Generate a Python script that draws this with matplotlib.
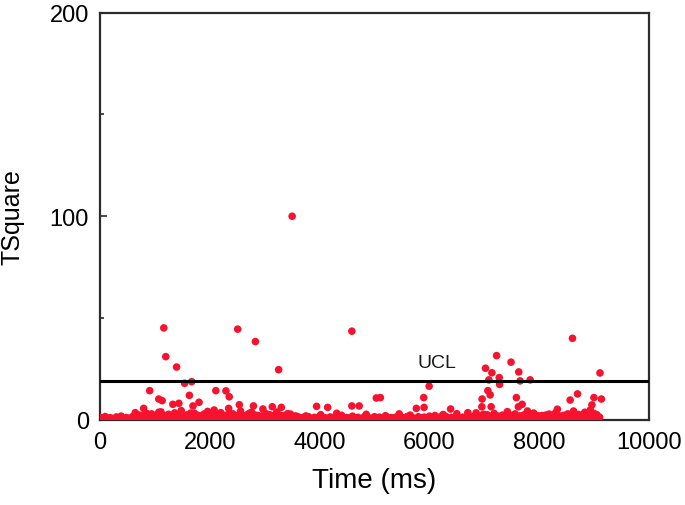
import matplotlib
matplotlib.use('Agg')
import matplotlib.pyplot as plt
from matplotlib.ticker import MultipleLocator

plt.rcParams['font.family'] = ['Liberation Sans', 'DejaVu Sans']

# T^2 values that stand clearly above the baseline
peak_t = [3500, 1162, 2508, 4588, 2831, 8606, 1198, 1395, 3254, 7224,
          7487, 9107, 1541, 1670, 7022, 7138, 7083, 7272, 7279, 7628,
          7652, 7835, 5995, 5107, 5896, 7065, 7107, 6960, 6955, 7125,
          7584, 7689, 8564, 8698, 8997, 9133, 8960, 8931, 6386, 5903,
          5762, 8331, 8625, 7786, 7621, 905, 2110, 2294, 2354, 1070,
          1132, 1628, 1327, 1437, 1804, 1694, 2538, 2795, 2967, 3138,
          3303, 3945, 4147, 4588, 4721, 5033, 795, 2079, 2343, 642,
          1070, 4312]
peak_val = [100.0, 45.2, 44.6, 43.6, 38.5, 40.1, 31.1, 26.0, 24.7, 31.6,
            28.4, 23.1, 18.0, 18.8, 25.4, 23.2, 19.7, 20.8, 17.5, 23.6,
            19.2, 19.7, 16.6, 11.0, 11.0, 14.4, 12.3, 10.3, 6.5, 6.5,
            11.0, 7.7, 9.8, 12.8, 11.0, 10.3, 7.4, 4.9, 5.4, 6.2,
            5.7, 5.3, 4.4, 4.4, 6.5, 14.4, 14.4, 14.3, 11.4, 10.3,
            9.5, 12.1, 7.7, 8.2, 8.7, 6.9, 7.5, 6.9, 5.4, 6.5,
            6.2, 6.7, 6.2, 6.9, 6.9, 10.8, 5.7, 4.9, 5.7, 3.6,
            3.8, 3.3]

# small bumps just above the baseline
bump_t = [720, 860, 980, 1110, 1250, 1360, 1480, 1580, 1720, 1850,
          1960, 2060, 2200, 2290, 2420, 2560, 2680, 2760, 2880, 3010,
          3100, 3220, 3380, 3470, 3750, 4020, 4400, 4850, 5200, 5450,
          5650, 6100, 6250, 6500, 6700, 6850, 6980, 7180, 7330, 7420,
          7560, 7720, 7900, 8050, 8180, 8300, 8450, 8720, 8830, 9050,
          650, 800, 940, 1180, 1300, 1420, 1530, 1650, 1780, 1900,
          2010, 2140, 2240, 2360, 2480, 2620, 2720, 2830, 2950, 3060,
          3170, 3300, 3420, 3560, 6920, 7050, 7250, 7480, 7650, 7820,
          7980, 8120, 8380, 8520, 8650, 8780, 8900, 9000]
bump_val = [2.4, 3.1, 2.2, 4.0, 2.8, 3.5, 4.6, 2.5, 3.3, 2.1,
            4.2, 2.7, 3.6, 2.3, 3.0, 4.4, 2.6, 3.8, 2.2, 3.2,
            2.5, 3.9, 2.4, 2.9, 2.0, 2.6, 2.3, 2.8, 2.1, 3.0,
            2.4, 2.2, 2.7, 3.1, 3.6, 3.5, 2.8, 3.2, 2.4, 4.1,
            3.0, 2.5, 3.4, 2.2, 2.9, 3.6, 2.3, 2.7, 3.8, 2.6,
            1.8, 2.0, 3.0, 2.2, 1.9, 2.6, 2.0, 3.4, 2.3, 3.0,
            1.9, 2.5, 2.0, 3.2, 2.1, 2.0, 3.3, 2.4, 1.9, 2.7,
            2.0, 2.2, 3.1, 2.0, 2.1, 2.6, 1.9, 2.3, 2.0, 2.9,
            2.1, 2.4, 2.0, 3.0, 2.2, 1.9, 2.6, 3.2]

# dense baseline band
base_t = [0, 95, 190, 300, 385, 480, 590, 700, 790, 905,
          1000, 1090, 1210, 1300, 1400, 1510, 1590, 1705, 1800, 1890,
          2010, 2100, 2190, 2300, 2405, 2500, 2610, 2700, 2790, 2900,
          3005, 3100, 3190, 3310, 3400, 3500, 3600, 3690, 3800, 3905,
          4000, 4100, 4195, 4300, 4400, 4490, 4600, 4700, 4810, 4900,
          5000, 5090, 5205, 5300, 5400, 5500, 5595, 5700, 5800, 5905,
          6000, 6100, 6190, 6300, 6400, 6500, 6610, 6700, 6790, 6900,
          7000, 7100, 7205, 7300, 7400, 7500, 7590, 7700, 7800, 7905,
          8000, 8100, 8200, 8300, 8400, 8495, 8600, 8700, 8800, 8900,
          9000, 9100]
base_val = [1.3, 1.7, 1.1, 1.5, 1.9, 1.2, 1.6, 1.4, 2.0, 1.1,
            1.7, 1.3, 1.8, 1.2, 1.5, 2.1, 1.4, 1.7, 1.1, 1.6,
            1.3, 1.9, 1.2, 1.5, 1.8, 1.1, 1.6, 1.4, 2.0, 1.2,
            1.7, 1.3, 1.5, 1.9, 1.1, 1.4, 1.7, 1.2, 1.6, 1.3,
            1.8, 1.1, 1.5, 1.4, 1.7, 1.2, 1.9, 1.3, 1.5, 1.1,
            1.6, 1.4, 1.8, 1.2, 1.5, 1.3, 1.7, 1.1, 1.6, 1.4,
            1.9, 1.2, 1.5, 1.7, 1.3, 2.0, 1.4, 1.8, 1.6, 2.1,
            1.5, 1.9, 1.3, 1.7, 2.0, 1.4, 1.8, 1.6, 1.2, 1.9,
            1.5, 1.7, 1.3, 2.0, 1.6, 1.4, 1.8, 1.5, 1.9, 1.3,
            1.7, 1.4]

# second pass of the baseline, between the first points
base2_t = [45, 140, 245, 340, 435, 530, 645, 745, 850, 950,
           1045, 1150, 1255, 1350, 1455, 1550, 1650, 1750, 1845, 1950,
           2055, 2145, 2245, 2350, 2455, 2555, 2655, 2745, 2845, 2950,
           3055, 3145, 3250, 3355, 3450, 3550, 3645, 3745, 3850, 3950,
           4050, 4150, 4245, 4350, 4445, 4545, 4650, 4755, 4855, 4950,
           5045, 5150, 5250, 5350, 5450, 5545, 5650, 5750, 5850, 5950,
           6050, 6145, 6245, 6350, 6450, 6555, 6655, 6745, 6845, 6950,
           7050, 7150, 7250, 7350, 7450, 7545, 7645, 7750, 7850, 7950,
           8050, 8150, 8250, 8350, 8450, 8545, 8650, 8750, 8850, 8950,
           9050]
base2_val = [0.6, 0.9, 0.7, 1.1, 0.5, 0.8, 1.0, 0.6, 0.9, 0.7,
             1.1, 0.5, 0.8, 1.0, 0.7, 0.6, 0.9, 1.1, 0.5, 0.8,
             0.7, 1.0, 0.6, 0.9, 0.8, 0.5, 1.1, 0.7, 0.6, 1.0,
             0.8, 0.7, 0.9, 0.5, 1.1, 0.6, 0.8, 1.0, 0.7, 0.9,
             0.5, 0.8, 1.1, 0.6, 0.7, 1.0, 0.8, 0.5, 0.9, 0.7,
             1.1, 0.6, 0.8, 1.0, 0.5, 0.7, 0.9, 0.6, 1.1, 0.8,
             0.7, 1.0, 0.5, 0.9, 0.6, 0.8, 1.1, 0.7, 0.9, 1.0,
             0.8, 1.1, 0.7, 0.9, 0.6, 1.0, 0.8, 1.1, 0.7, 0.9,
             0.6, 1.0, 0.8, 0.5, 1.1, 0.7, 0.9, 0.6, 1.0, 0.8,
             0.7]

ucl = 19.1
red = '#f7132f'
edge = '#2b2b2b'

fig = plt.figure(figsize=(6.85, 5.06), dpi=100)
ax = fig.add_axes([100/685, 85/506, 549/685, 407.5/506])

for t, v in [(base2_t, base2_val), (base_t, base_val),
             (bump_t, bump_val), (peak_t, peak_val)]:
    ax.scatter(t, v, s=30, color=red, edgecolors='none', zorder=3)

ax.axhline(ucl, color='black', lw=2.2, zorder=4)
ax.text(5790, 26, 'UCL', fontsize=14, color='#1a1a1a')

ax.set_xlim(0, 10000)
ax.set_ylim(0, 200)
ax.xaxis.set_major_locator(MultipleLocator(2000))
ax.xaxis.set_minor_locator(MultipleLocator(1000))
ax.yaxis.set_major_locator(MultipleLocator(100))
ax.yaxis.set_minor_locator(MultipleLocator(50))
ax.tick_params(which='both', direction='in', color=edge, width=1.2)
ax.tick_params(which='major', length=5, labelsize=17, pad=8)
ax.tick_params(which='minor', length=3)
for s in ax.spines.values():
    s.set_color(edge)
    s.set_linewidth(1.6)

ax.set_xlabel('Time (ms)', fontsize=20, labelpad=10)
ax.set_ylabel('TSquare', fontsize=18, labelpad=18)

fig.savefig('out.png', dpi=100)
